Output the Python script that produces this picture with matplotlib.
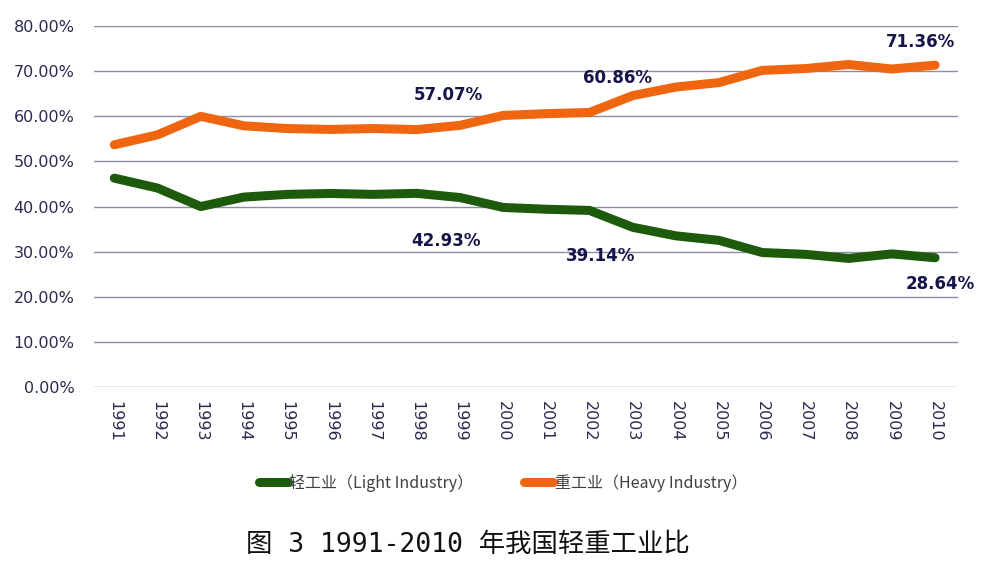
import numpy as np
import matplotlib
matplotlib.use("Agg")
import matplotlib.pyplot as plt

plt.rcParams['font.family'] = ['DejaVu Sans', 'Noto Sans CJK SC']

years = [str(y) for y in range(1991, 2011)]
heavy = [53.7, 55.9, 60.0, 57.9, 57.3, 57.1, 57.3, 57.07, 58.0, 60.2,
         60.6, 60.86, 64.6, 66.5, 67.5, 70.2, 70.6, 71.5, 70.5, 71.36]
light = [46.3, 44.1, 40.0, 42.1, 42.7, 42.9, 42.7, 42.93, 42.0, 39.8,
         39.4, 39.14, 35.4, 33.5, 32.5, 29.8, 29.4, 28.5, 29.5, 28.64]
yticks = [0, 10, 20, 30, 40, 50, 60, 70, 80]

# labelled points: (index, series, text, dx px, dy px)
labels = [(7, 'h', '57.07%', 32, 35), (7, 'l', '42.93%', 29, -48),
          (11, 'h', '60.86%', 28, 34), (11, 'l', '39.14%', 11, -46),
          (19, 'h', '71.36%', -15, 23), (19, 'l', '28.64%', 5, -26)]

green = '#1e5a0c'
orange = '#f0650f'
navy = '#15154a'

fig = plt.figure(figsize=(10, 5.69), dpi=100)
ax = fig.add_axes([0.094, 0.32, 0.864, 0.634])
x = np.arange(len(years))
ax.plot(x, light, color=green, lw=6.5, solid_capstyle='round', solid_joinstyle='round',
        label='轻工业（Light Industry）')
ax.plot(x, heavy, color=orange, lw=6.5, solid_capstyle='round', solid_joinstyle='round',
        label='重工业（Heavy Industry）')

for i, s, t, dx, dy in labels:
    yv = heavy[i] if s == 'h' else light[i]
    ax.annotate(t, (x[i], yv), xytext=(dx, dy), textcoords='offset pixels',
                ha='center', va='center', fontsize=12, fontweight='bold', color=navy,
                family='DejaVu Sans')

ax.set_xlim(-0.47, 19.53)
ax.set_ylim(0, 80)
ax.set_yticks(yticks)
ax.set_yticklabels(['%.2f%%' % v for v in yticks], fontsize=11.5, color='#2a2a50',
                   family='DejaVu Sans')
ax.set_xticks(x)
ax.set_xticklabels(years, rotation=270, fontsize=11.5, color='#2a2a50', family='DejaVu Sans')
ax.tick_params(axis='y', length=0, pad=14)
ax.tick_params(axis='x', length=0, pad=10)
ax.grid(axis='y', color='#8c8ca4', lw=1)
ax.set_axisbelow(True)
for sp in ax.spines.values():
    sp.set_visible(False)

leg = fig.legend(loc='center', bbox_to_anchor=(0.503, 0.151), ncol=2, frameon=False,
                 handlelength=1.8, handletextpad=0.1, columnspacing=3.2,
                 prop={'family': ['Noto Sans CJK SC'], 'size': 11.5})
for t in leg.get_texts():
    t.set_color('#404040')

fig.text(0.468, 0.042, '图 3 1991-2010 年我国轻重工业比', ha='center', va='center',
         fontsize=19, fontweight='medium', family=['DejaVu Sans Mono', 'Noto Sans CJK SC'],
         color='#111111')

fig.savefig('out.png', dpi=100, facecolor='white')
